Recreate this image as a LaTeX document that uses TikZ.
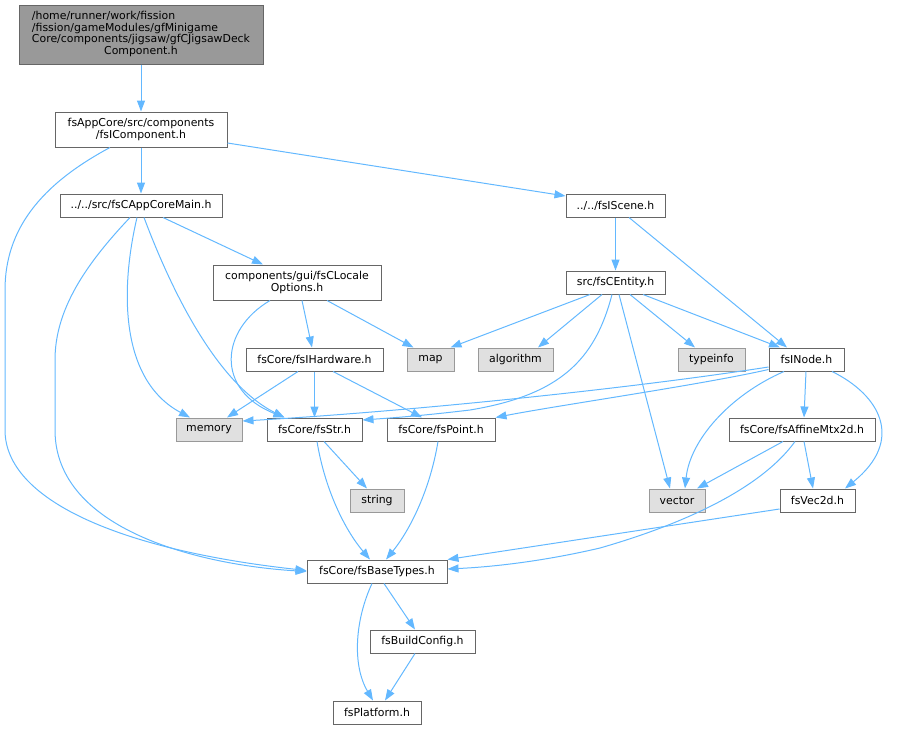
\documentclass[tikz,border=0pt]{standalone}
\usepackage{fontspec}
\setmainfont{DejaVu Sans}
\usetikzlibrary{arrows.meta,calc}
\definecolor{edgeblue}{HTML}{63B8FF}
\definecolor{boxline}{HTML}{666666}
\definecolor{sysfill}{HTML}{E0E0E0}
\definecolor{sysline}{HTML}{999999}
\definecolor{topfill}{HTML}{999999}
\tikzset{
  filebox/.style={draw=boxline, fill=white, line width=1pt, inner sep=0pt, minimum height=23pt, align=center,
    font=\fontsize{10.9}{11.6}\selectfont},
  sysbox/.style={filebox, draw=sysline, fill=sysfill},
  topbox/.style={filebox, draw=boxline, fill=topfill},
  dep/.style={draw=edgeblue, line width=1pt, -{Triangle[length=11pt,width=8pt]}},
}
\begin{document}
\begin{tikzpicture}[x=1pt,y=-1pt]
\useasboundingbox (0,0) rectangle (897,729);
% nodes
\node[topbox, minimum width=244pt, minimum height=59pt] (top) at (141,34.5)
  {\begin{tabular}{@{}l@{}}/home/runner/work/fission\\/fission/gameModules/gfMinigame\\Core/components/jigsaw/gfCJigsawDeck\\\multicolumn{1}{@{}c@{}}{Component.h}\end{tabular}};
\node[filebox, minimum width=172pt, minimum height=35pt] (comp) at (141,129.5) {fsAppCore/src/components\\/fsIComponent.h};
\node[filebox, minimum width=162pt] (cam) at (141,205.5) {../../src/fsCAppCoreMain.h};
\node[filebox, minimum width=168pt, minimum height=35pt] (loc) at (297,282.5) {components/gui/fsCLocale\\Options.h};
\node[filebox, minimum width=137pt] (hw) at (314.5,359.5) {fsCore/fsIHardware.h};
\node[sysbox, minimum width=47pt] (map) at (430.5,359.5) {map};
\node[sysbox, minimum width=75pt] (alg) at (515.5,359.5) {algorithm};
\node[sysbox, minimum width=67pt] (typ) at (711.5,359.5) {typeinfo};
\node[filebox, minimum width=75pt] (inode) at (806.5,359.5) {fsINode.h};
\node[sysbox, minimum width=66pt] (mem) at (209,429.5) {memory};
\node[filebox, minimum width=95pt] (str) at (314.5,429.5) {fsCore/fsStr.h};
\node[filebox, minimum width=108pt] (pt) at (441,429.5) {fsCore/fsPoint.h};
\node[filebox, minimum width=146pt] (aff) at (802,429.5) {fsCore/fsAffineMtx2d.h};
\node[sysbox, minimum width=54pt] (string) at (377,500.5) {string};
\node[sysbox, minimum width=56pt] (vec) at (677,500.5) {vector};
\node[filebox, minimum width=75pt] (v2d) at (817.5,500.5) {fsVec2d.h};
\node[filebox, minimum width=140pt] (bt) at (377,571.5) {fsCore/fsBaseTypes.h};
\node[filebox, minimum width=105pt] (bc) at (422.5,641.5) {fsBuildConfig.h};
\node[filebox, minimum width=88pt] (pl) at (377,712.5) {fsPlatform.h};
\node[filebox, minimum width=99pt] (scene) at (615.5,205.5) {../../fsIScene.h};
\node[filebox, minimum width=99pt] (ent) at (615.5,282.5) {src/fsCEntity.h};
% edges
\draw[dep] (top.south) -- (comp.north);
\draw[dep] (comp.south) -- (cam.north);
\draw[dep] ([yshift=-13.5pt]comp.east) -- ([yshift=9.5pt]scene.west);
\draw[dep] ([xshift=-31pt]comp.south) .. controls (40,185) and (5,230) .. (5,290) -- (5,430) .. controls (5,500) and (120,550) .. ([yshift=1pt]bt.west);
\draw[dep] ([xshift=22pt]cam.south) -- ([xshift=-34pt]loc.north);
\draw[dep] ([xshift=-4pt]cam.south) .. controls (120,290) and (120,380) .. ([xshift=-19pt]mem.north);
\draw[dep] ([xshift=3pt]cam.south) .. controls (175,300) and (220,385) .. ([xshift=-30pt]str.north);
\draw[dep] ([xshift=-11pt]cam.south) .. controls (85,265) and (55,310) .. (55,360) -- (55,430) .. controls (55,530) and (200,565) .. ([yshift=0pt]bt.west);
\draw[dep] ([xshift=-27pt]loc.south) .. controls (220,330) and (215,390) .. ([xshift=-30pt]str.north);
\draw[dep] ([xshift=5pt]loc.south) -- ([xshift=-2.5pt]hw.north);
\draw[dep] ([xshift=30pt]loc.south) -- ([xshift=-17pt]map.north);
\draw[dep] ([xshift=-16.5pt]hw.south) -- ([xshift=18pt]mem.north);
\draw[dep] (hw.south) -- (str.north);
\draw[dep] ([xshift=18.5pt]hw.south) -- ([xshift=-19pt]pt.north);
\draw[dep] (scene.south) -- (ent.north);
\draw[dep] ([xshift=13.5pt]scene.south) -- ([xshift=-19.5pt]inode.north);
\draw[dep] ([xshift=-25.5pt]ent.south) -- ([xshift=-4pt]map.north east);
\draw[dep] ([xshift=-13.5pt]ent.south) -- ([xshift=22.5pt]alg.north);
\draw[dep] ([xshift=-3.5pt]ent.south) .. controls (595,360) and (560,395) .. (470,410) .. controls (420,416) and (390,418) .. ([yshift=9.5pt]str.east);
\draw[dep] ([xshift=3.5pt]ent.south) -- ([xshift=-7pt]vec.north);
\draw[dep] ([xshift=14.5pt]ent.south) -- ([xshift=-16.5pt]typ.north);
\draw[dep] ([xshift=27.5pt]ent.south) -- ([xshift=-26.5pt]inode.north);
\draw[dep] ([yshift=-7.5pt]inode.west) .. controls (620,390) and (400,412) .. ([yshift=8.5pt]mem.east);
\draw[dep] ([yshift=-10pt]inode.west) .. controls (700,385) and (560,405) .. (pt.north east);
\draw[dep] ([xshift=-22.5pt]inode.south) .. controls (730,395) and (690,440) .. ([xshift=8pt]vec.north);
\draw[dep] ([xshift=-0.5pt]inode.south) -- ([xshift=2pt]aff.north);
\draw[dep] ([xshift=25.5pt]inode.south) .. controls (880,395) and (905,440) .. ([xshift=27.5pt]v2d.north);
\draw[dep] ([xshift=-19pt]aff.south) -- ([xshift=20pt]vec.north);
\draw[dep] ([xshift=2pt]aff.south) -- ([xshift=-4.5pt]v2d.north);
\draw[dep] ([xshift=-7pt]aff.south) .. controls (760,490) and (680,525) .. (600,548) .. controls (540,562) and (490,567) .. ([yshift=2.5pt]bt.east);
\draw[dep] ([yshift=-8.5pt]v2d.west) -- (bt.north east);
\draw[dep] ([xshift=9.5pt]str.south) -- ([xshift=-10pt]string.north);
\draw[dep] ([xshift=2.5pt]str.south) .. controls (325,490) and (345,530) .. ([xshift=-7pt]bt.north);
\draw[dep] ([xshift=-3pt]pt.south) .. controls (430,490) and (410,530) .. ([xshift=9pt]bt.north);
\draw[dep] ([xshift=7pt]bt.south) -- ([xshift=-7.5pt]bc.north);
\draw[dep] ([xshift=-5pt]bt.south) .. controls (355,620) and (352,665) .. ([xshift=-4pt]pl.north);
\draw[dep] ([xshift=-7.5pt]bc.south) -- ([xshift=8pt]pl.north);
\end{tikzpicture}
\end{document}
